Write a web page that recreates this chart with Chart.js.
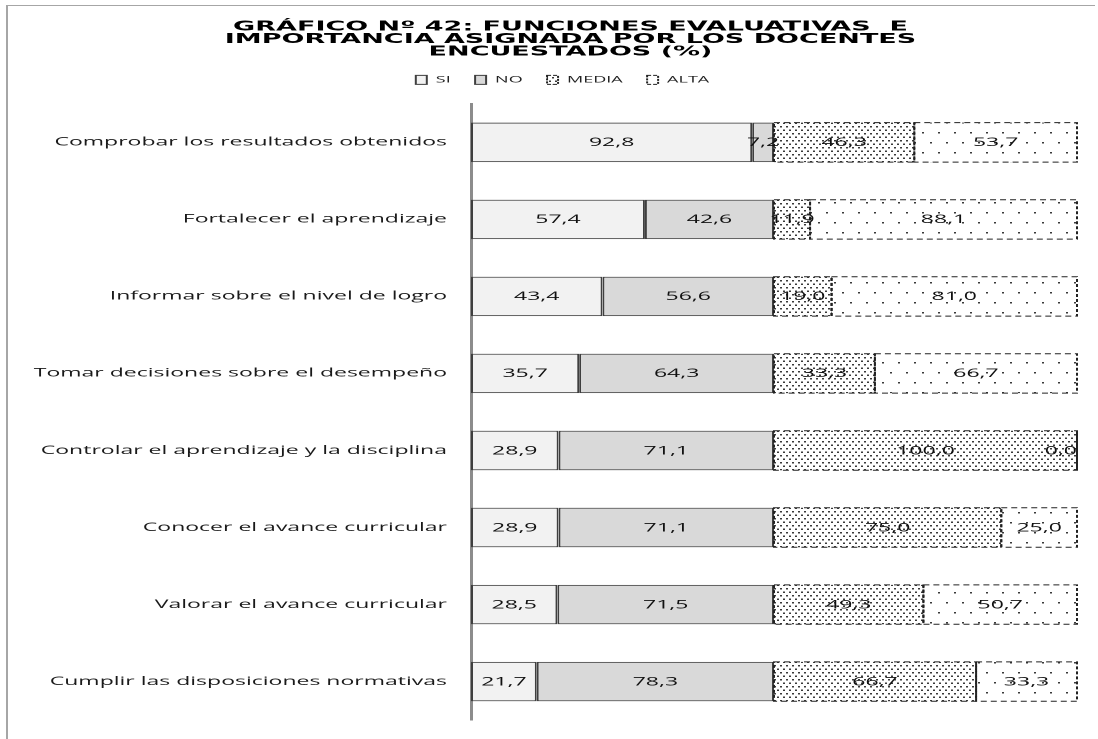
<!DOCTYPE html>
<html lang="es">
<head>
<meta charset="utf-8">
<title>Funciones evaluativas</title>
<script src="https://cdn.jsdelivr.net/npm/chart.js@4.4.0/dist/chart.umd.min.js"></script>
<style>
  html, body { margin: 0; padding: 0; background: #fff; overflow: hidden; }
  /* el gráfico se dibuja a media anchura y se estira en horizontal */
  #wrap { width: 549px; height: 739px; transform: scaleX(2); transform-origin: 0 0; }
</style>
</head>
<body>
<div id="wrap"><canvas id="chart" width="549" height="739"></canvas></div>
<script>
/* ---------- datos ---------- */
const categorias = [
    "Comprobar los resultados obtenidos",
    "Fortalecer el aprendizaje",
    "Informar sobre el nivel de logro",
    "Tomar decisiones sobre el desempeño",
    "Controlar el aprendizaje y la disciplina",
    "Conocer el avance curricular",
    "Valorar el avance curricular",
    "Cumplir las disposiciones normativas"
];
const valoresSi    = [92.8, 57.4, 43.4, 35.7, 28.9, 28.9, 28.5, 21.7];
const valoresNo    = [7.2, 42.6, 56.6, 64.3, 71.1, 71.1, 71.5, 78.3];
const valoresMedia = [46.3, 11.9, 19.0, 33.3, 100.0, 75.0, 49.3, 66.7];
const valoresAlta  = [53.7, 88.1, 81.0, 66.7, 0.0, 25.0, 50.7, 33.3];
const series = ["SI", "NO", "MEDIA", "ALTA"];

const titulo = [
    "GRÁFICO Nº 42: FUNCIONES EVALUATIVAS  E",
    "IMPORTANCIA ASIGNADA POR LOS DOCENTES",
    "ENCUESTADOS (%)"
];

/* ---------- tramas de puntos ---------- */
function trama(w, h, puntos) {
    const c = document.createElement("canvas");
    c.width = w; c.height = h;
    const g = c.getContext("2d");
    g.fillStyle = "#fff";
    g.fillRect(0, 0, w, h);
    g.fillStyle = "#3a3a3a";
    puntos.forEach(([x, y]) => g.fillRect(x, y, 2, 3));
    const p = g.createPattern(c, "repeat");
    p.setTransform(new DOMMatrix().scale(0.5)); // la tesela va en píxeles del dispositivo (dpr 2)
    return p;
}
const tramaMedia = trama(6, 14, [[0, 0], [3, 7]]);
const tramaAlta = trama(16, 40, [[2, 4], [10, 24]]);

/* ---------- plugins ---------- */
const marco = {
    id: "marco",
    beforeDraw(chart) {
        const ctx = chart.ctx;
        ctx.save();
        ctx.strokeStyle = "#a6a6a6";
        ctx.lineWidth = 1;
        ctx.beginPath();
        ctx.moveTo(3.5, 739);
        ctx.lineTo(3.5, 5.5);
        ctx.lineTo(547.5, 5.5);
        ctx.stroke();
        ctx.restore();
    }
};

// título y leyenda centrados un poco a la derecha del centro del lienzo
const desplazar = {
    id: "desplazar",
    afterLayout(chart) {
        chart.titleBlock.left += 32;
        chart.legend.left += 24;
    }
};

// borde discontinuo de MEDIA y ALTA
const bordes = {
    id: "bordes",
    afterDatasetsDraw(chart) {
        const ctx = chart.ctx;
        ctx.save();
        ctx.strokeStyle = "#222";
        ctx.lineWidth = 1;
        ctx.setLineDash([3, 2]);
        [2, 3].forEach(i => {
            chart.getDatasetMeta(i).data.forEach(bar => {
                const p = bar.getProps(["x", "y", "base", "height"], true);
                const top = p.y - p.height / 2;
                ctx.strokeRect(p.base, top, p.x - p.base, p.height);
            });
        });
        ctx.restore();
    }
};

const etiquetas = {
    id: "etiquetas",
    afterDatasetsDraw(chart) {
        const ctx = chart.ctx;
        ctx.save();
        ctx.font = '11.5px "Open Sans"';
        ctx.fillStyle = "#111";
        ctx.textAlign = "center";
        ctx.textBaseline = "middle";
        chart.data.datasets.forEach((ds, i) => {
            chart.getDatasetMeta(i).data.forEach((bar, j) => {
                const p = bar.getProps(["x", "y", "base"], true);
                const txt = ds.data[j].toFixed(1).replace(".", ",");
                const w = ctx.measureText(txt).width;
                const x = Math.min((p.x + p.base) / 2, chart.chartArea.right - w / 2);
                ctx.fillText(txt, x, p.y + 0.5);
            });
        });
        ctx.restore();
    }
};

/* ---------- gráfico ---------- */
const solidas = { borderColor: "#3f3f3f", borderWidth: 1, borderSkipped: false };

new Chart(document.getElementById("chart"), {
    type: "bar",
    data: {
        labels: categorias,
        datasets: [
            { label: series[0], data: valoresSi, backgroundColor: "#f2f2f2", ...solidas },
            { label: series[1], data: valoresNo, backgroundColor: "#d9d9d9", ...solidas },
            { label: series[2], data: valoresMedia, backgroundColor: tramaMedia, borderWidth: 0 },
            { label: series[3], data: valoresAlta, backgroundColor: tramaAlta, borderWidth: 0 }
        ]
    },
    options: {
        indexAxis: "y",
        responsive: false,
        animation: false,
        devicePixelRatio: 2,
        layout: { padding: { left: 0, right: 10.5, top: 0, bottom: 10 } },
        datasets: { bar: { categoryPercentage: 1, barPercentage: 0.512 } },
        scales: {
            x: {
                stacked: true,
                min: 0,
                max: 200,
                position: "top",
                grid: { display: false },
                ticks: { display: false },
                border: { display: false },
                afterFit(s) { s.height = 9.5; }
            },
            y: {
                stacked: true,
                grid: { display: false, drawTicks: false },
                border: { display: true, color: "#8c8c8c", width: 1.5 },
                ticks: {
                    color: "#1a1a1a",
                    autoSkip: false,
                    padding: 12,
                    font: { family: "Open Sans", size: 11.5 }
                },
                afterFit(s) { s.width = 235.5; }
            }
        },
        plugins: {
            title: {
                display: true,
                text: titulo,
                color: "#000",
                font: { family: "DejaVu Sans", size: 13.5, weight: "bold", lineHeight: 0.93 },
                padding: { top: 20.5, bottom: 5 }
            },
            legend: {
                display: true,
                position: "top",
                labels: {
                    boxWidth: 5.5,
                    boxHeight: 9,
                    padding: 12.2,
                    color: "#222",
                    font: { family: "Open Sans", size: 9 },
                    generateLabels(chart) {
                        const items = Chart.defaults.plugins.legend.labels.generateLabels(chart);
                        items.forEach((it, i) => {
                            it.lineWidth = 1;
                            it.strokeStyle = i < 2 ? "#3f3f3f" : "#222";
                            if (i >= 2) it.lineDash = [2, 1];
                        });
                        return items;
                    }
                }
            },
            tooltip: { enabled: false }
        }
    },
    plugins: [marco, desplazar, bordes, etiquetas]
});
</script>
</body>
</html>
